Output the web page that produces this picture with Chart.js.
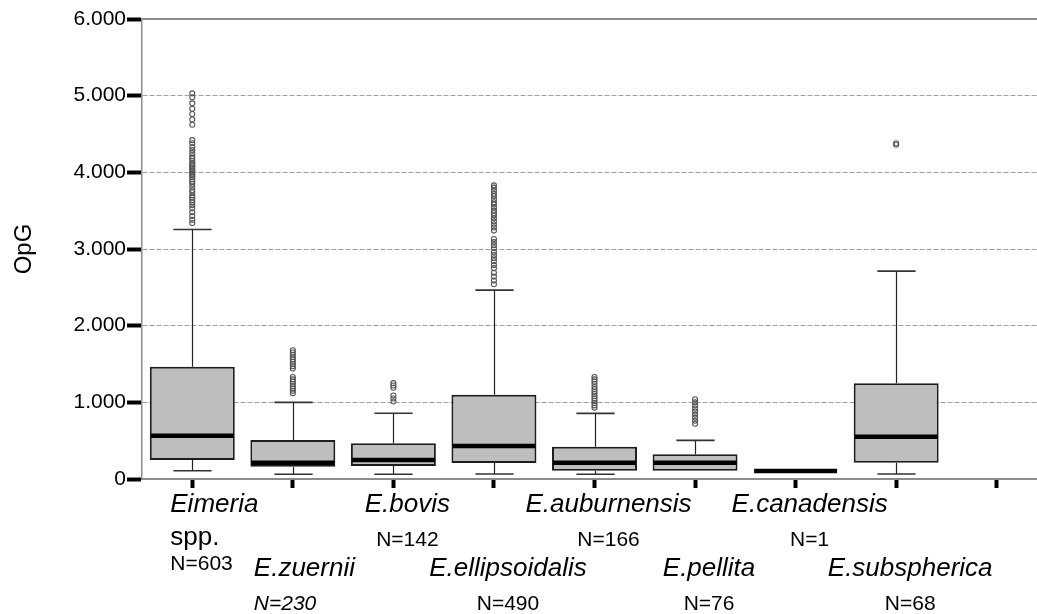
<!DOCTYPE html>
<html>
<head>
<meta charset="utf-8">
<script src="https://cdn.jsdelivr.net/npm/chart.js@4"></script>
<style>
  html, body { margin: 0; padding: 0; background: #fff; overflow: hidden; }
  #wrap { width: 1060px; height: 614px; }
</style>
</head>
<body>
<div id="wrap"><canvas id="chart" width="1060" height="614"></canvas></div>
<script>
// categories (last slot is empty on the original axis)
const categories = ["Eimeria spp.", "E.zuernii", "E.bovis", "E.ellipsoidalis", "E.auburnensis", "E.pellita", "E.canadensis", "E.subspherica", ""]
const nameLines = [["Eimeria", "spp."], ["E.zuernii"], ["E.bovis"], ["E.ellipsoidalis"], ["E.auburnensis"], ["E.pellita"], ["E.canadensis"], ["E.subspherica"], null]
const nLabels = ["N=603", "N=230", "N=142", "N=490", "N=166", "N=76", "N=1", "N=68", null]

// box statistics (OpG)
const q1 = [248, 160, 170, 210, 108, 108, null, 212, null]
const q3 = [1464, 508, 465, 1100, 421, 322, null, 1248, null]
const median = [565, 212, 248, 430, 212, 212, 104, 552, null]
const whiskerLow = [108, 61, 61, 65, 61, 108, null, 65, null]
const whiskerHigh = [3255, 1000, 857, 2464, 856, 504, null, 2712, null]

const outliers = [
  [5030, 4980, 4900, 4830, 4760, 4690, 4620,
   4420, 4380, 4330, 4290, 4250, 4210, 4180, 4150, 4120, 4100, 4080, 4060, 4040, 4020, 4000,
   3980, 3960, 3940, 3910, 3880, 3850, 3810, 3770, 3740, 3700, 3670, 3640, 3610, 3570, 3530, 3480, 3430, 3380, 3340],
  [1680, 1650, 1620, 1590, 1560, 1530, 1500, 1470, 1440, 1330, 1300, 1270, 1240, 1210, 1180, 1150, 1120],
  [1250, 1220, 1190, 1090, 1050, 1010],
  [3830, 3800, 3760, 3720, 3690, 3650, 3610, 3580, 3540, 3500, 3470, 3440, 3400, 3360, 3320, 3280, 3240,
   3130, 3090, 3050, 3010, 2960, 2920, 2880, 2840, 2790, 2750, 2690, 2640, 2590, 2540],
  [1330, 1300, 1270, 1240, 1200, 1170, 1140, 1110, 1080, 1050, 1020, 990, 960, 930],
  [1040, 1000, 960, 920, 880, 840, 800, 760, 720],
  [],
  [4380, 4360],
  []
]

const yTicks = [0, 1000, 2000, 3000, 4000, 5000, 6000]

const FONT = "'Liberation Sans', Arial, Helvetica, sans-serif"
Chart.defaults.font.family = FONT
Chart.defaults.color = "#000"

function fmt(v) {
  return String(v).replace(/\B(?=(\d{3})+(?!\d))/g, ".")
}

const outlierPoints = []
outliers.forEach((list, i) => list.forEach((v) => outlierPoints.push({ x: categories[i], y: v })))

const isEdge = (ctx) => ctx.tick && (ctx.tick.value === 0 || ctx.tick.value === 6000)

// frame top line, whiskers + caps under the boxes, medians on top
const boxPlugin = {
  id: "boxParts",
  beforeDatasetsDraw(chart) {
    const { ctx, chartArea } = chart
    const x = chart.scales.x
    const y = chart.scales.y
    ctx.save()
    ctx.strokeStyle = "#8c8c8c"
    ctx.lineWidth = 2
    const top = y.getPixelForValue(6000)
    ctx.beginPath()
    ctx.moveTo(chartArea.left, top)
    ctx.lineTo(chartArea.right, top)
    ctx.stroke()

    const boxW = chart.getDatasetMeta(0).data[0].width
    const cap = boxW * 0.225
    categories.forEach((c, i) => {
      if (whiskerHigh[i] == null) return
      const cx = Math.round(x.getPixelForValue(i)) + 0.5
      const segs = [[q3[i], whiskerHigh[i]], [q1[i], whiskerLow[i]]]
      segs.forEach(([a, b]) => {
        if (a === b) return
        ctx.strokeStyle = "#222"
        ctx.lineWidth = 1.2
        ctx.beginPath()
        ctx.moveTo(cx, y.getPixelForValue(a))
        ctx.lineTo(cx, y.getPixelForValue(b))
        ctx.stroke()
        ctx.lineWidth = 1.6
        ctx.strokeStyle = "#333"
        ctx.beginPath()
        ctx.moveTo(cx - cap, y.getPixelForValue(b))
        ctx.lineTo(cx + cap, y.getPixelForValue(b))
        ctx.stroke()
      })
    })
    ctx.restore()
  },
  afterDatasetsDraw(chart) {
    const { ctx } = chart
    const x = chart.scales.x
    const y = chart.scales.y
    const boxW = chart.getDatasetMeta(0).data[0].width
    ctx.save()
    ctx.strokeStyle = "#000"
    ctx.lineWidth = 4.5
    median.forEach((m, i) => {
      if (m == null) return
      const cx = x.getPixelForValue(i)
      const yy = y.getPixelForValue(m)
      ctx.beginPath()
      ctx.moveTo(cx - boxW / 2 + 1, yy)
      ctx.lineTo(cx + boxW / 2 - 1, yy)
      ctx.stroke()
    })
    ctx.restore()
  },
}

// staggered category labels under the axis
const labelPlugin = {
  id: "catLabels",
  afterDraw(chart) {
    const { ctx } = chart
    const x = chart.scales.x
    const leftAligned = { 0: -22, 1: -39 }
    ctx.save()
    ctx.fillStyle = "#000"
    ctx.textBaseline = "middle"
    categories.forEach((c, i) => {
      const lines = nameLines[i]
      if (!lines) return
      const tx = x.getPixelForValue(i)
      const lower = i % 2 === 1
      const nameY = lower ? 569 : 505
      ctx.font = "italic 26px " + FONT
      const w = ctx.measureText(lines[0]).width
      let left = tx + 14 - w / 2
      if (leftAligned[i] !== undefined) left = tx + leftAligned[i]
      ctx.textAlign = "left"
      ctx.fillText(lines[0], left, nameY)
      let nY = lower ? 604 : 540
      if (lines.length > 1) {
        ctx.font = "26px " + FONT
        ctx.fillText(lines[1], left, 538)
        nY = 564
      }
      if (i === 1) {
        ctx.font = "italic 21px " + FONT
        ctx.fillText(nLabels[i], left, nY)
      } else if (i === 0) {
        ctx.font = "21px " + FONT
        ctx.fillText(nLabels[i], left, nY)
      } else {
        ctx.font = "21px " + FONT
        ctx.textAlign = "center"
        ctx.fillText(nLabels[i], tx + 14, nY)
      }
    })
    ctx.restore()
  },
}

new Chart(document.getElementById("chart"), {
  type: "bar",
  data: {
    labels: categories,
    datasets: [
      {
        data: categories.map((c, i) => (q1[i] == null ? null : [q1[i], q3[i]])),
        backgroundColor: "#bebebe",
        borderColor: "#1e1e1e",
        borderWidth: 2,
        borderSkipped: false,
        barPercentage: 0.845,
        categoryPercentage: 1,
      },
      {
        type: "line",
        data: outlierPoints,
        showLine: false,
        pointStyle: "circle",
        pointRadius: 2.5,
        pointBorderWidth: 1.1,
        pointBorderColor: "#555",
        pointBackgroundColor: "rgba(255,255,255,0)",
      },
    ],
  },
  options: {
    responsive: false,
    animation: false,
    layout: { padding: { top: 19, right: 13, left: 0, bottom: 0 } },
    plugins: { legend: { display: false }, tooltip: { enabled: false } },
    scales: {
      x: {
        grid: {
          drawOnChartArea: false,
          drawTicks: true,
          offset: false,
          tickLength: 9,
          tickWidth: 4,
          tickColor: "#000",
        },
        border: { display: true, color: "#8c8c8c", width: 2 },
        ticks: { display: false },
        afterFit: (scale) => {
          scale.height = 135
        },
      },
      y: {
        min: 0,
        max: 6000,
        afterBuildTicks: (scale) => {
          scale.ticks = yTicks.map((v) => ({ value: v }))
        },
        ticks: {
          padding: 1,
          font: { size: 21 },
          color: "#000",
          callback: (v) => fmt(v),
        },
        grid: {
          color: (ctx) => (isEdge(ctx) ? "rgba(0,0,0,0)" : "#a0a0a0"),
          lineWidth: 1,
          tickLength: 15,
          tickWidth: 4,
          tickColor: "#000",
        },
        border: { display: true, color: "#8c8c8c", width: 1.5, dash: [5, 2] },
        title: {
          display: true,
          text: "OpG",
          color: "#000",
          font: { size: 24 },
          padding: { top: 10, bottom: 0 },
        },
        afterFit: (scale) => {
          scale.width = 142
        },
      },
    },
  },
  plugins: [boxPlugin, labelPlugin],
})
</script>
</body>
</html>
